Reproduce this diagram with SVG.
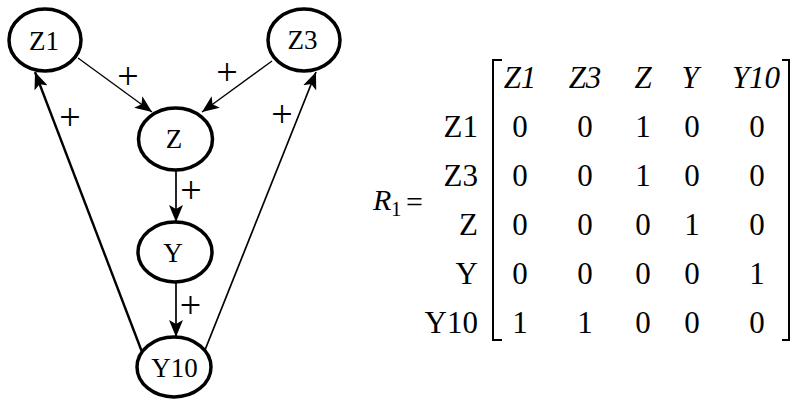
<svg xmlns="http://www.w3.org/2000/svg" width="791" height="401" viewBox="0 0 791 401">
<style>
.node ellipse{fill:#fff;stroke:#000;stroke-width:3.5}
.edge{stroke:#000;fill:none}
.thin{stroke-width:1.3}
.mid{stroke-width:1.7}
.thick{stroke-width:2.4}
.br{stroke:#000;stroke-width:2;fill:none}
</style>
<defs>
<marker id="ah" markerUnits="userSpaceOnUse" markerWidth="18" markerHeight="14" refX="17" refY="7" orient="auto">
<path d="M0,0 L17,7 L0,14 L4,7 z" fill="#000"/>
</marker>
</defs>
<rect width="791" height="401" fill="#fff"/>
<g id="connectors">
<line class="edge thin" x1="78" y1="58" x2="152" y2="112" marker-end="url(#ah)"/>
<line class="edge thin" x1="272" y1="61" x2="202" y2="112" marker-end="url(#ah)"/>
<line class="edge mid" x1="176" y1="170" x2="176" y2="222" marker-end="url(#ah)"/>
<line class="edge mid" x1="176" y1="282" x2="176" y2="337" marker-end="url(#ah)"/>
<line class="edge thick" x1="142" y1="352" x2="35" y2="72" marker-end="url(#ah)"/>
<line class="edge mid" x1="205" y1="350" x2="316" y2="72" marker-end="url(#ah)"/>
<g font-family="Liberation Serif, serif" font-size="38" text-anchor="middle" fill="#000">
<text x="128" y="89">+</text>
<text x="227" y="85">+</text>
<text x="70" y="130">+</text>
<text x="282" y="127">+</text>
<text x="191" y="203">+</text>
<text x="190.5" y="318">+</text>
</g>
</g>
<g font-family="Liberation Serif, serif" font-size="27" text-anchor="middle" fill="#000">
<g id="node-Z1" class="node"><ellipse cx="45" cy="40" rx="36" ry="31"/><text x="44" y="50">Z1</text></g>
<g id="node-Z3" class="node"><ellipse cx="304" cy="40" rx="36" ry="31"/><text x="302.5" y="49">Z3</text></g>
<g id="node-Z" class="node"><ellipse cx="175.5" cy="139" rx="37" ry="31"/><text x="174" y="148">Z</text></g>
<g id="node-Y" class="node"><ellipse cx="175" cy="252" rx="37" ry="30"/><text x="173" y="262">Y</text></g>
<g id="node-Y10" class="node"><ellipse cx="174" cy="367" rx="37" ry="30"/><text x="174.5" y="377">Y10</text></g>
</g>
<g id="matrix" font-family="Liberation Serif, serif" font-size="31" fill="#000">
<text x="373" y="210" font-size="30" font-style="italic">R</text>
<text x="391" y="216" font-size="21">1</text>
<text x="406" y="212" font-size="30">=</text>
<path class="br" d="M502,60 H493 V340 H502"/>
<path class="br" d="M782,60 H789 V340 H782"/>
<g font-style="italic" text-anchor="middle">
<text x="520" y="88">Z1</text>
<text x="585" y="88">Z3</text>
<text x="643" y="88">Z</text>
<text x="690" y="88">Y</text>
<text x="756" y="88">Y10</text>
</g>
<g text-anchor="end">
<text x="478" y="137">Z1</text>
<text x="478" y="186">Z3</text>
<text x="478" y="235">Z</text>
<text x="478" y="284">Y</text>
<text x="478" y="333">Y10</text>
</g>
<g text-anchor="middle">
<text x="520" y="137">0</text><text x="585" y="137">0</text><text x="643" y="137">1</text><text x="692" y="137">0</text><text x="757" y="137">0</text>
<text x="520" y="186">0</text><text x="585" y="186">0</text><text x="643" y="186">1</text><text x="692" y="186">0</text><text x="757" y="186">0</text>
<text x="520" y="235">0</text><text x="585" y="235">0</text><text x="643" y="235">0</text><text x="692" y="235">1</text><text x="757" y="235">0</text>
<text x="520" y="284">0</text><text x="585" y="284">0</text><text x="643" y="284">0</text><text x="692" y="284">0</text><text x="757" y="284">1</text>
<text x="520" y="333">1</text><text x="585" y="333">1</text><text x="643" y="333">0</text><text x="692" y="333">0</text><text x="757" y="333">0</text>
</g>
</g>
</svg>
